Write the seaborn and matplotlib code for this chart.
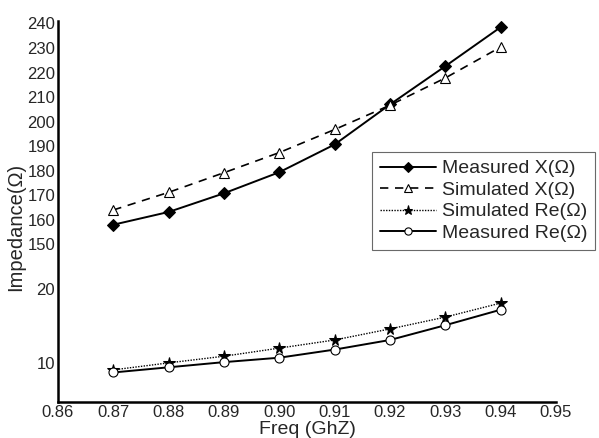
import numpy as np
import pandas as pd
import seaborn as sns
import matplotlib
matplotlib.use("Agg")
import matplotlib.pyplot as plt

freq = [0.87, 0.88, 0.89, 0.90, 0.91, 0.92, 0.93, 0.94]
measured_x = [158, 163.2, 170.8, 179.4, 190.7, 207, 222.6, 238.5]
simulated_x = [164, 171.2, 179.2, 187.4, 196.8, 206.7, 217.8, 230.4]
simulated_re = [9.05, 10.0, 10.9, 12.0, 13.1, 14.6, 16.2, 18.1]
measured_re = [8.7, 9.4, 10.1, 10.7, 11.8, 13.1, 15.1, 17.2]

y_ticks = [10, 20, 150, 160, 170, 180, 190, 200, 210, 220, 230, 240]
x_ticks = [0.86, 0.87, 0.88, 0.89, 0.90, 0.91, 0.92, 0.93, 0.94, 0.95]

sns.set_style('white')
plt.rcParams['font.family'] = ['Liberation Sans', 'DejaVu Sans']

# piecewise-linear "broken" y scale: 5-20 stretched, 20-150 squeezed
yb = np.array([-100.0, 20.0, 150.0, 1000.0])
tb = np.array([(-100 - 4.7) * 7.4, 113.2, 158.0, 158.0 + 850 * 2.46])


def fwd(y):
    return np.interp(y, yb, tb)


def inv(t):
    return np.interp(t, tb, yb)


fig = plt.figure(figsize=(5.99, 4.38), dpi=100)
ax = fig.add_axes([0.0968, 0.0822, 0.8314, 0.8698])
ax.set_yscale('function', functions=(fwd, inv))

sns.lineplot(x=freq, y=measured_x, ax=ax, color='black', lw=1.4, marker='D',
             markersize=6, markerfacecolor='black', markeredgecolor='black',
             label='Measured X(Ω)')
sns.lineplot(x=freq, y=simulated_x, ax=ax, color='black', lw=1.2, ls=(0, (5, 4)),
             marker='^', markersize=7.5, markerfacecolor='white',
             markeredgecolor='black', markeredgewidth=0.8,
             label='Simulated X(Ω)')
sns.lineplot(x=freq, y=simulated_re, ax=ax, color='black', lw=1.0, ls=(0, (1, 1)),
             marker='*', markersize=8.5, markerfacecolor='black',
             markeredgecolor='black', label='Simulated Re(Ω)')
sns.lineplot(x=freq, y=measured_re, ax=ax, color='black', lw=1.4, marker='o',
             markersize=6.5, markerfacecolor='white', markeredgecolor='black',
             markeredgewidth=0.8, label='Measured Re(Ω)')

ax.set_xlim(0.86, 0.95)
ax.set_ylim(4.7, 241)
ax.set_xticks(x_ticks)
ax.set_xticklabels([f'{v:.2f}' for v in x_ticks])
ax.set_yticks(y_ticks)
ax.set_yticklabels([str(v) for v in y_ticks])
ax.minorticks_off()
ax.tick_params(axis='both', length=0, pad=2, labelsize=12)

for s in ['top', 'right']:
    ax.spines[s].set_visible(False)
for s in ['left', 'bottom']:
    ax.spines[s].set_color('black')
    ax.spines[s].set_linewidth(1.8)

ax.set_xlabel('Freq (GhZ)', fontsize=14, labelpad=1)
ax.set_ylabel('Impedance(Ω)', fontsize=14.5)
ax.yaxis.set_label_coords(-0.066, 0.46)

leg = ax.legend(loc='upper left', bbox_to_anchor=(372 / 599, 1 - 152 / 438),
                bbox_transform=fig.transFigure, frameon=True, fancybox=False,
                fontsize=14, handlelength=2.9, handletextpad=0.3,
                labelspacing=0.2, borderpad=0.4, borderaxespad=0,
                markerscale=0.8)
leg.get_frame().set_edgecolor('#444444')
leg.get_frame().set_linewidth(0.8)

fig.savefig('out.png', dpi=100)
